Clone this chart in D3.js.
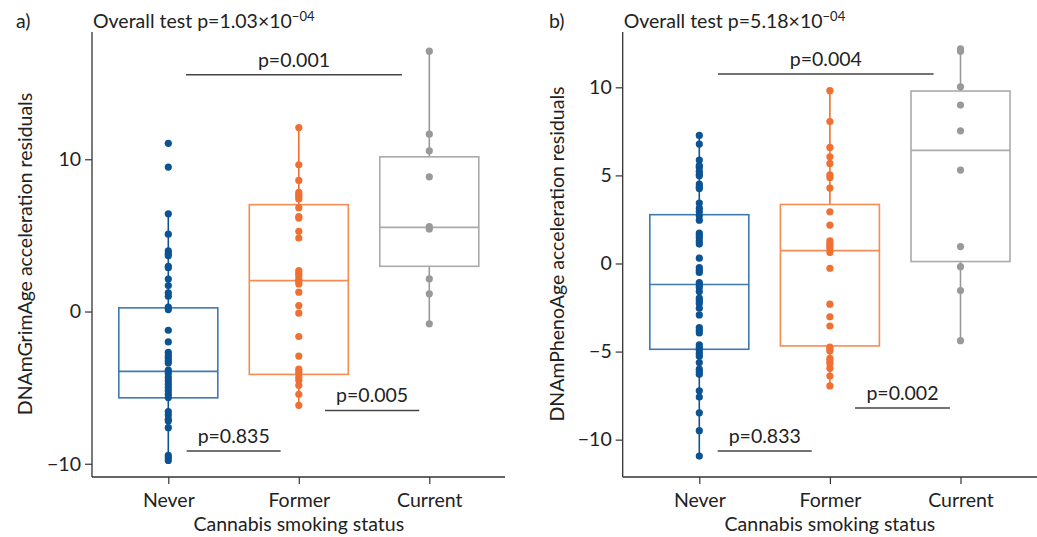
<!DOCTYPE html>
<html><head><meta charset="utf-8">
<script src="https://cdn.jsdelivr.net/npm/d3@7"></script>
<style>
body{margin:0;background:#fff;}
svg{display:block;font-family:Lato,"Noto Sans",sans-serif;}
</style></head>
<body><svg id="chart" width="1037" height="537"></svg>
<script>
const categories = ["Never","Former","Current"];
const xAxisTitle = "Cannabis smoking status";

// Panel a: DNAmGrimAge
const grimNever = [11.05,9.49,6.42,5.08,3.98,3.80,3.67,2.97,2.88,2.13,1.71,1.23,1.01,0.29,0.13,-1.23,-2.0,-2.68,-2.9,-3.05,-3.23,-3.38,-3.85,-4.07,-4.33,-4.55,-4.77,-4.99,-5.2,-5.43,-5.65,-6.57,-6.79,-7.08,-7.19,-7.63,-9.45,-9.6,-9.78];
const grimFormer = [12.08,9.64,8.61,7.82,7.67,7.54,7.39,6.82,6.23,6.14,5.27,4.83,2.69,2.51,2.36,2.14,1.99,1.81,1.27,0.39,-0.11,-1.64,-2.93,-3.78,-3.91,-4.09,-4.31,-4.52,-4.85,-5.44,-6.16];
const grimCurrent = [17.1,11.65,10.56,8.85,5.57,5.42,2.14,1.16,-0.81];
const grimQ1 = [-5.67,-4.13,2.97];
const grimMedian = [-3.93,2.03,5.53];
const grimQ3 = [0.24,7.02,10.16];
const grimWhiskerLow = [-9.78,-6.16,-0.81];
const grimWhiskerHigh = [6.42,12.08,17.1];
const grimTicks = [-10,0,10];
const grimPLabels = ["p=0.001","p=0.835","p=0.005"];
const grimPLevels = [15.55,-9.17,-6.5];
const grimPFrom = [0.136,0.141,1.201];
const grimPTo = [1.79,0.861,1.923];

// Panel b: DNAmPhenoAge
const phenoNever = [7.27,6.78,5.87,5.55,5.45,5.23,5.08,4.98,4.51,4.36,4.26,3.43,3.14,2.95,2.71,2.46,1.72,1.57,1.44,1.25,1.10,0.30,-0.23,-0.38,-0.51,-1.08,-1.21,-1.36,-1.59,-1.97,-2.12,-2.27,-2.54,-2.92,-3.64,-3.79,-3.94,-4.62,-4.77,-4.92,-5.11,-5.26,-5.62,-6.00,-6.14,-6.29,-7.23,-7.58,-8.48,-9.49,-10.93];
const phenoFormer = [9.81,8.06,6.59,6.06,5.68,5.03,4.88,4.28,2.93,2.18,1.28,1.13,1.0,0.87,0.62,-0.27,-2.31,-3.03,-3.55,-4.74,-4.85,-4.97,-5.38,-5.53,-5.69,-5.95,-6.39,-6.95];
const phenoCurrent = [12.18,12.05,10.03,8.99,7.53,5.30,0.96,-0.18,-1.54,-4.38];
const phenoQ1 = [-4.87,-4.68,0.11];
const phenoMedian = [-1.19,0.73,6.42];
const phenoQ3 = [2.77,3.35,9.79];
const phenoWhiskerLow = [-10.93,-6.95,-4.38];
const phenoWhiskerHigh = [7.27,9.81,12.18];
const phenoTicks = [-10,-5,0,5,10];
const phenoPLabels = ["p=0.004","p=0.833","p=0.002"];
const phenoPLevels = [10.75,-10.64,-8.2];
const phenoPFrom = [0.143,0.141,1.192];
const phenoPTo = [1.794,0.861,1.919];

const dotColors = ["#0c5394","#f07032","#999999"];
const boxColors = ["#3f79b0","#f38c55","#aaaaaa"];
const textColor = "#222";
const FS = 19.5;

const svg = d3.select("#chart");
const fmt = d => d < 0 ? "\u2212" + Math.abs(d) : String(d);

function panel(cfg){
  const g = svg.append("g");
  const y = d3.scaleLinear().domain(cfg.yDomain).range([477, 32]);
  const x = d3.scalePoint().domain(categories).range(cfg.xCenters);
  const xi = d3.scaleLinear().domain([0,2]).range(cfg.xCenters);
  const boxW = 99;

  const ya = g.append("g").attr("transform",`translate(${cfg.axisX},0)`)
    .call(d3.axisLeft(y).tickValues(cfg.ticks).tickFormat(fmt).tickSize(7).tickPadding(4));
  ya.select(".domain").attr("d",`M0,32V477`).attr("stroke","#333").attr("stroke-width",1.3);
  ya.selectAll(".tick line").attr("stroke","#333").attr("stroke-width",1.2);
  ya.selectAll(".tick text").attr("font-size",FS).attr("fill",textColor).attr("font-family","Lato");

  const xa = g.append("g").attr("transform","translate(0,477)")
    .call(d3.axisBottom(x).tickSize(7).tickPadding(9));
  xa.select(".domain").attr("d",`M${cfg.axisX},0H${cfg.axisEnd}`).attr("stroke","#333").attr("stroke-width",1.3);
  xa.selectAll(".tick line").attr("stroke","#333").attr("stroke-width",1.2);
  xa.selectAll(".tick text").attr("font-size",FS).attr("fill",textColor).attr("font-family","Lato");

  categories.forEach((c,i)=>{
    const cx = x(c);
    g.append("line").attr("x1",cx).attr("x2",cx).attr("y1",y(cfg.q3[i])).attr("y2",y(cfg.hi[i]))
      .attr("stroke",dotColors[i]).attr("stroke-width",1.6);
    g.append("line").attr("x1",cx).attr("x2",cx).attr("y1",y(cfg.q1[i])).attr("y2",y(cfg.lo[i]))
      .attr("stroke",dotColors[i]).attr("stroke-width",1.6);
    g.append("rect").attr("x",cx-boxW/2).attr("width",boxW)
      .attr("y",y(cfg.q3[i])).attr("height",y(cfg.q1[i])-y(cfg.q3[i]))
      .attr("fill","none").attr("stroke",boxColors[i]).attr("stroke-width",1.6);
    g.append("line").attr("x1",cx-boxW/2).attr("x2",cx+boxW/2).attr("y1",y(cfg.med[i])).attr("y2",y(cfg.med[i]))
      .attr("stroke",boxColors[i]).attr("stroke-width",1.6);
    g.append("g").selectAll("circle").data(cfg.values[i]).join("circle")
      .attr("cx",cx).attr("cy",d=>y(d)).attr("r",3.6).attr("fill",dotColors[i]);
  });

  cfg.pLabels.forEach((lab,k)=>{
    const yy = y(cfg.pLevels[k]);
    const x1 = xi(cfg.pFrom[k]), x2 = xi(cfg.pTo[k]);
    g.append("line").attr("x1",x1).attr("x2",x2).attr("y1",yy).attr("y2",yy).attr("stroke","#444").attr("stroke-width",1.5);
    g.append("text").attr("x",(x1+x2)/2).attr("y",yy-8).attr("text-anchor","middle")
      .attr("font-size",FS).attr("fill",textColor).text(lab);
  });

  g.append("text").attr("x",cfg.letterX).attr("y",28).attr("font-size",FS).attr("fill",textColor).text(cfg.letter);
  const t = g.append("text").attr("x",cfg.axisX+1).attr("y",28).attr("font-size",FS).attr("fill",textColor);
  t.append("tspan").text(cfg.overall);
  t.append("tspan").attr("dy",-7).attr("font-size",13).text("\u221204");
  g.append("text").attr("transform",`translate(${cfg.yTitleX},254) rotate(-90)`).attr("text-anchor","middle")
    .attr("font-size",FS).attr("fill",textColor).text(cfg.yTitle);
  g.append("text").attr("x",(cfg.xCenters[0]+cfg.xCenters[1])/2)
    .attr("y",531).attr("text-anchor","middle").attr("font-size",FS).attr("fill",textColor).text(xAxisTitle);
}

panel({
  yDomain:[-10.87,18.36], axisX:92, axisEnd:505, xCenters:[168.3,429.3],
  ticks:grimTicks, values:[grimNever,grimFormer,grimCurrent],
  q1:grimQ1, med:grimMedian, q3:grimQ3, lo:grimWhiskerLow, hi:grimWhiskerHigh,
  pLabels:grimPLabels, pLevels:grimPLevels, pFrom:grimPFrom, pTo:grimPTo,
  letter:"a)", letterX:16, overall:"Overall test p=1.03\u00d710",
  yTitle:"DNAmGrimAge acceleration residuals", yTitleX:32
});
panel({
  yDomain:[-12.12,13.14], axisX:622.7, axisEnd:1037, xCenters:[699.3,960.5],
  ticks:phenoTicks, values:[phenoNever,phenoFormer,phenoCurrent],
  q1:phenoQ1, med:phenoMedian, q3:phenoQ3, lo:phenoWhiskerLow, hi:phenoWhiskerHigh,
  pLabels:phenoPLabels, pLevels:phenoPLevels, pFrom:phenoPFrom, pTo:phenoPTo,
  letter:"b)", letterX:549, overall:"Overall test p=5.18\u00d710",
  yTitle:"DNAmPhenoAge acceleration residuals", yTitleX:564
});
</script></body></html>
